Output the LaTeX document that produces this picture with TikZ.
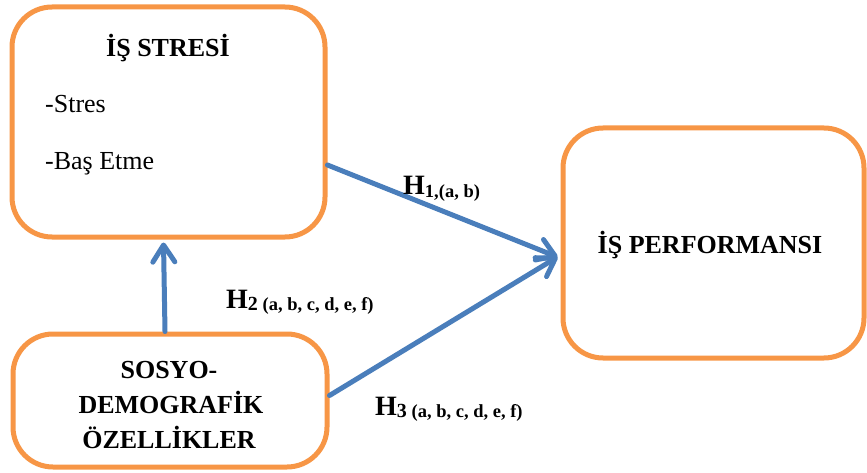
\documentclass[tikz,border=0pt]{standalone}
\usepackage{fontspec}
\setmainfont{Liberation Serif}
\usetikzlibrary{arrows.meta}
\definecolor{boxorange}{HTML}{F79646}
\definecolor{arrblue}{HTML}{4A7EBB}
\tikzset{
  roundbox/.style={draw=boxorange, line width=5pt, rounded corners=40pt, fill=white, inner sep=0pt},
  conn/.style={draw=arrblue, line width=5pt, line cap=round,
    -{Straight Barb[length=17pt 0, width=22pt 0, round]}},
  txt/.style={inner sep=0pt, font=\fontsize{26}{30}\selectfont},
  btxt/.style={inner sep=0pt, font=\fontsize{26}{35}\selectfont\bfseries},
  hlab/.style={inner sep=0pt, anchor=base west, font=\bfseries}
}
\newcommand{\hyplab}[3]{{\fontsize{28}{28}\selectfont H}\raisebox{-2pt}{\fontsize{#2}{#2}\selectfont #1}\raisebox{-2pt}{\fontsize{18.5}{18.5}\selectfont #3}}
\begin{document}
\begin{tikzpicture}[x=1pt,y=-1pt]
\useasboundingbox (0,0) rectangle (867,473);
% boxes
\node[roundbox, minimum width=313pt, minimum height=230pt] (stres) at (168.5,122) {};
\node[roundbox, minimum width=301pt, minimum height=230pt] (perf) at (713.5,243) {};
\node[roundbox, minimum width=314pt, minimum height=133pt] (sosyo) at (170,400.5) {};
% texts
\node[btxt, anchor=base] (t1) at (168,57) {İŞ STRESİ};
\node[txt, anchor=base west] (t2) at (45,113) {-Stres};
\node[txt, anchor=base west] (t3) at (45,170) {-Baş Etme};
\node[btxt, anchor=base] (t4) at (710,253) {İŞ PERFORMANSI};
\node[btxt, anchor=base] (t5a) at (169,378) {SOSYO-};
\node[btxt, anchor=base] (t5b) at (171,413) {DEMOGRAFİK};
\node[btxt, anchor=base] (t5c) at (169,448) {ÖZELLİKLER};
% connectors
\coordinate (tip) at ([xshift=-3pt,yshift=-14pt]perf.west);
\draw[conn] ([xshift=-5pt]sosyo.north) -- ([xshift=-5pt,yshift=-3pt]stres.south);
\draw[conn] ([yshift=-43pt]stres.east) -- (tip);
\draw[conn] ([yshift=5pt]sosyo.east) -- (tip);
% labels
\node[hlab] (h1) at (403,195) {\hyplab{1,(a, b)}{18.5}{}};
\node[hlab] (h2) at (226,308) {\hyplab{2}{20}{ (a, b, c, d, e, f)}};
\node[hlab] (h3) at (375,415) {\hyplab{3}{20}{ (a, b, c, d, e, f)}};
\end{tikzpicture}
\end{document}
